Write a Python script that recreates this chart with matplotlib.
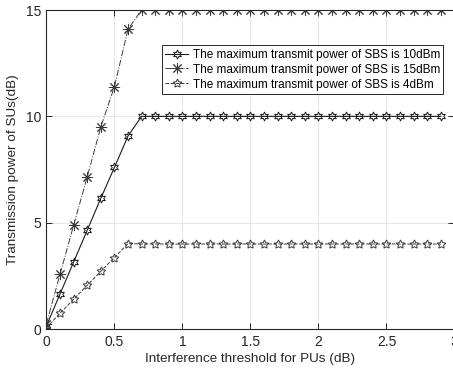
import matplotlib
matplotlib.use('Agg')
import matplotlib.pyplot as plt

plt.rcParams['font.family'] = ['Liberation Sans', 'DejaVu Sans']

# interference threshold for PUs (dB)
threshold = [0.0, 0.1, 0.2, 0.3, 0.4, 0.5, 0.6, 0.7, 0.8, 0.9,
             1.0, 1.1, 1.2, 1.3, 1.4, 1.5, 1.6, 1.7, 1.8, 1.9,
             2.0, 2.1, 2.2, 2.3, 2.4, 2.5, 2.6, 2.7, 2.8, 2.9]

# transmission power of SUs (dB) for each SBS max transmit power
power_10dbm = [0.15, 1.65, 3.15, 4.65, 6.15, 7.6, 9.08] + [10.0] * 23
power_15dbm = [0.25, 2.58, 4.88, 7.16, 9.5, 11.4, 14.1] + [15.0] * 23
power_4dbm = [0.05, 0.75, 1.4, 2.06, 2.72, 3.36, 4.02] + [4.0] * 23

labels = ['The maximum transmit power of SBS is 10dBm',
          'The maximum transmit power of SBS is 15dBm',
          'The maximum transmit power of SBS is 4dBm']


def main():
    fig = plt.figure(figsize=(4.53, 3.71), dpi=100)
    ax = fig.add_axes([0.1025, 0.113, 0.9007, 0.86])

    ax.plot(threshold, power_10dbm, color='#1a1a1a', linestyle='-', linewidth=0.8,
            marker=(6, 1, 0), markersize=6.5, markerfacecolor='none',
            markeredgewidth=0.7, label=labels[0])
    ax.plot(threshold, power_15dbm, color='#3a3a3a', linestyle='-.', linewidth=0.7,
            marker=(8, 2, 0), markersize=8, markeredgewidth=0.7, label=labels[1])
    ax.plot(threshold, power_4dbm, color='#3a3a3a', linestyle='--', linewidth=0.7,
            marker=(5, 1, 0), markersize=6.5, markerfacecolor='none',
            markeredgewidth=0.7, label=labels[2])

    ax.set_xlim(0, 3)
    ax.set_ylim(0, 15)
    ax.set_xticks([0, 0.5, 1, 1.5, 2, 2.5, 3])
    ax.set_xticklabels(['0', '0.5', '1', '1.5', '2', '2.5', '3'])
    ax.set_yticks([0, 5, 10, 15])

    ax.grid(True, color='#e3e3e3', linewidth=0.6)
    ax.set_axisbelow(True)
    ax.tick_params(direction='in', top=True, right=True, labelsize=10,
                   length=4, width=0.7, colors='#262626', pad=4)
    for spine in ax.spines.values():
        spine.set_linewidth(0.8)
        spine.set_color('#262626')

    ax.set_xlabel('Interference threshold for PUs (dB)', fontsize=9.7,
                  color='#262626', labelpad=3)
    ax.set_ylabel('Transmission power of SUs(dB)', fontsize=9.7,
                  color='#262626', labelpad=5)

    leg = ax.legend(loc='upper right', bbox_to_anchor=(0.973, 0.89), fontsize=8.5,
                    fancybox=False, framealpha=1, edgecolor='#262626',
                    handlelength=1.9, borderpad=0.3, labelspacing=0.25,
                    handletextpad=0.4, borderaxespad=0)
    leg.get_frame().set_linewidth(0.7)

    fig.savefig('out.png', dpi=100)


if __name__ == '__main__':
    main()
